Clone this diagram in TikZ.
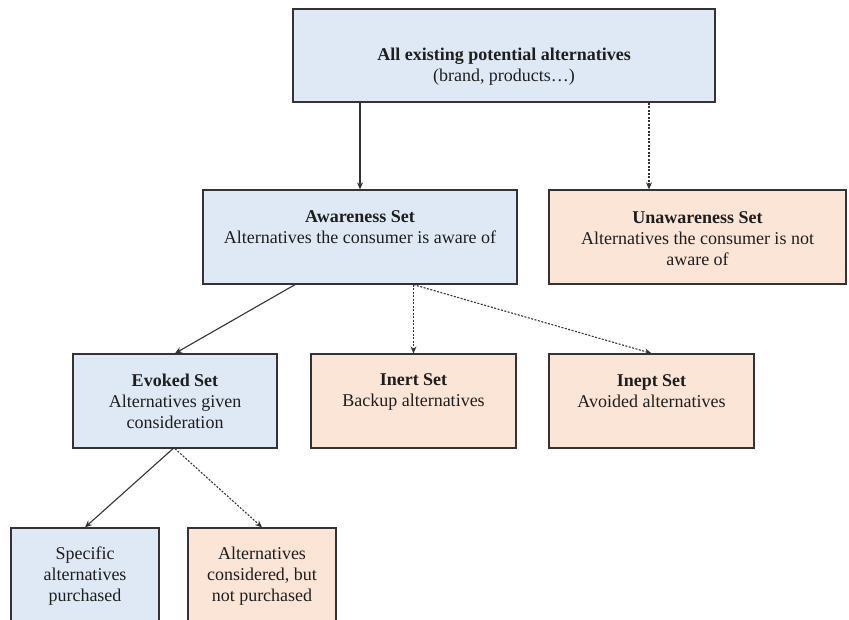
\documentclass[tikz,border=0pt]{standalone}
\usepackage{fontspec}
\setmainfont{Liberation Serif}
\usetikzlibrary{arrows.meta,fit}
\definecolor{setblue}{HTML}{DEE9F5}
\definecolor{setpeach}{HTML}{FBE5D7}
\definecolor{edgegray}{HTML}{333333}
\definecolor{inkgray}{HTML}{1E1E1E}

\begin{document}
\begin{tikzpicture}[x=1pt,y=-1pt,
  setbox/.style={draw=edgegray, line width=1.3pt, inner sep=0pt},
  bluebox/.style={setbox, fill=setblue},
  peachbox/.style={setbox, fill=setpeach},
  txt/.style={anchor=north, align=center, inner sep=0pt, text=inkgray,
    font=\fontsize{18}{21}\selectfont},
  flow/.style={-{Stealth[length=7pt,width=6pt]}, line width=1.1pt, draw=edgegray},
  maybe/.style={flow, dash pattern=on 2pt off 1.5pt}]

\useasboundingbox (0,0) rectangle (849,619);

% set boxes
\node[bluebox, fit={(293,9) (715,102)}] (all) {};
\node[bluebox, fit={(203,190) (517,284)}] (aware) {};
\node[peachbox, fit={(549,190) (846,284)}] (unaware) {};
\node[bluebox, fit={(73,354) (277,448)}] (evoked) {};
\node[peachbox, fit={(311,354) (516,448)}] (inert) {};
\node[peachbox, fit={(549,354) (754,448)}] (inept) {};
\node[bluebox, fit={(11,528) (159,640)}] (bought) {};
\node[peachbox, fit={(188,528) (336,640)}] (notbought) {};

% box texts
\node[txt] (all-t) at (504,47.7) {\textbf{All existing potential alternatives}\\(brand, products\ldots)};
\node[txt] (aware-t) at (360,210.7) {\textbf{Awareness Set}\\Alternatives the consumer is aware of};
\node[txt] (unaware-t) at (697.5,211.7) {\textbf{Unawareness Set}\\Alternatives the consumer is not\\aware of};
\node[txt] (evoked-t) at (175,373.7) {\textbf{Evoked Set}\\Alternatives given\\consideration};
\node[txt] (inert-t) at (413.5,373.7) {\textbf{Inert Set}\\Backup alternatives};
\node[txt] (inept-t) at (651.5,374.7) {\textbf{Inept Set}\\Avoided alternatives};
\node[txt] (bought-t) at (85,546.7) {Specific\\alternatives\\purchased};
\node[txt] (notbought-t) at (262,546.7) {Alternatives\\considered, but\\not purchased};

% connector positions off the box centres
\coordinate (unaware-x) at (649,0);
\coordinate (evoked-x) at (295,0);

% connectors
\draw[flow] (all.south -| aware.north) -- (aware.north);
\draw[maybe] (all.south -| unaware-x) -- (unaware.north -| unaware-x);
\draw[flow] (aware.south -| evoked-x) -- (evoked.north);
\draw[maybe] (aware.south -| inert.north) -- (inert.north);
\draw[maybe] (aware.south -| inert.north) -- (inept.north);
\draw[flow] (evoked.south) ++(-2,0) -- (bought.north);
\draw[maybe] (evoked.south) -- (notbought.north);
\end{tikzpicture}
\end{document}
